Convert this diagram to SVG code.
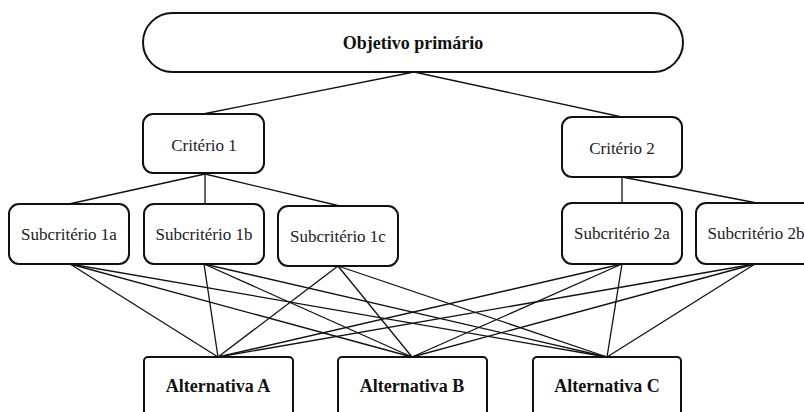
<svg xmlns="http://www.w3.org/2000/svg" width="804" height="412" viewBox="0 0 804 412">
<style>
.box{fill:#fff;stroke:#111;stroke-width:2}
.t{font-family:"Liberation Serif","Times New Roman",serif;font-size:17px;fill:#222;text-anchor:middle}
.b{font-weight:bold;font-size:18px;fill:#111}
.ln{stroke:#111;stroke-width:1.3;fill:none}
</style>
<rect width="804" height="412" fill="#fff"/>
<g id="connectors" class="ln">
<line x1="414" y1="72" x2="203" y2="114"/>
<line x1="414" y1="72" x2="622" y2="117"/>
<line x1="205" y1="174" x2="69" y2="204"/>
<line x1="205" y1="174" x2="205" y2="204"/>
<line x1="205" y1="174" x2="340" y2="206"/>
<line x1="622" y1="177" x2="622" y2="203"/>
<line x1="622" y1="177" x2="757" y2="203"/>
<line x1="70" y1="264" x2="218" y2="357"/>
<line x1="70" y1="264" x2="412" y2="357"/>
<line x1="70" y1="264" x2="607" y2="357"/>
<line x1="204" y1="264" x2="218" y2="357"/>
<line x1="204" y1="264" x2="412" y2="357"/>
<line x1="204" y1="264" x2="607" y2="357"/>
<line x1="338" y1="266" x2="218" y2="357"/>
<line x1="338" y1="266" x2="412" y2="357"/>
<line x1="338" y1="266" x2="607" y2="357"/>
<line x1="622" y1="264" x2="218" y2="357"/>
<line x1="622" y1="264" x2="412" y2="357"/>
<line x1="622" y1="264" x2="607" y2="357"/>
<line x1="755" y1="264" x2="218" y2="357"/>
<line x1="755" y1="264" x2="412" y2="357"/>
<line x1="755" y1="264" x2="607" y2="357"/>
</g>
<g id="objetivo">
<rect class="box" x="143" y="13" width="540" height="59" rx="29.5"/>
<text class="t b" x="413" y="49">Objetivo primário</text>
</g>
<g id="criterio1">
<rect class="box" x="143" y="114" width="121" height="59" rx="10"/>
<text class="t" x="204" y="151">Critério 1</text>
</g>
<g id="criterio2">
<rect class="box" x="562" y="117" width="120" height="60" rx="10"/>
<text class="t" x="622" y="154">Critério 2</text>
</g>
<g id="sub1a">
<rect class="box" x="9" y="204" width="120" height="60" rx="10"/>
<text class="t" x="69" y="240">Subcritério 1a</text>
</g>
<g id="sub1b">
<rect class="box" x="144" y="204" width="120" height="60" rx="10"/>
<text class="t" x="204" y="240">Subcritério 1b</text>
</g>
<g id="sub1c">
<rect class="box" x="278" y="206" width="120" height="60" rx="10"/>
<text class="t" x="338" y="242">Subcritério 1c</text>
</g>
<g id="sub2a">
<rect class="box" x="562" y="203" width="120" height="61" rx="10"/>
<text class="t" x="622" y="239">Subcritério 2a</text>
</g>
<g id="sub2b">
<rect class="box" x="696" y="203" width="120" height="61" rx="10"/>
<text class="t" x="756" y="239">Subcritério 2b</text>
</g>
<g id="altA">
<rect class="box" x="144" y="357" width="149" height="62" rx="4"/>
<text class="t b" x="218" y="392">Alternativa A</text>
</g>
<g id="altB">
<rect class="box" x="338" y="357" width="149" height="62" rx="4"/>
<text class="t b" x="412" y="392">Alternativa B</text>
</g>
<g id="altC">
<rect class="box" x="533" y="357" width="148" height="62" rx="4"/>
<text class="t b" x="607" y="392">Alternativa C</text>
</g>
</svg>
